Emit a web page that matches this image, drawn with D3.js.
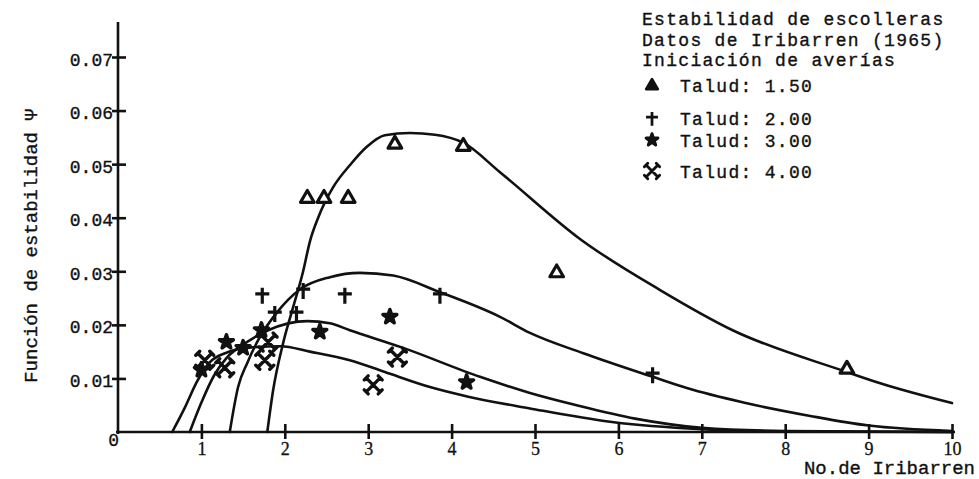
<!DOCTYPE html>
<html><head><meta charset="utf-8">
<script src="https://cdn.jsdelivr.net/npm/d3@7"></script>
<style>body{margin:0;background:#fff}svg{display:block}</style>
</head><body><svg id="c" width="979" height="479"></svg>
<script>
// ---- data ----
const xTickValues = [1,2,3,4,5,6,7,8,9,10];
const yTickValues = [0.01,0.02,0.03,0.04,0.05,0.06,0.07];
const legendTitle = ["Estabilidad de escolleras","Datos de Iribarren (1965)","Iniciación de averías"];
const seriesNames = ["Talud: 1.50","Talud: 2.00","Talud: 3.00","Talud: 4.00"];
const xTitle = "No.de Iribarren";
const yTitle = "Función de estabilidad Ψ";

const pointsT150 = [[2.27,0.0438],[2.47,0.0438],[2.76,0.0438],[3.32,0.0539],[4.14,0.0535],[5.26,0.0299],[8.74,0.0119]];
const pointsT200 = [[1.73,0.0256],[1.88,0.0222],[2.14,0.0222],[2.22,0.0265],[2.72,0.0256],[3.86,0.0256],[6.41,0.0108]];
const pointsT300 = [[1.0,0.0116],[1.3,0.0168],[1.5,0.0157],[1.72,0.019],[2.42,0.0187],[3.26,0.0215],[4.18,0.0093]];
const pointsT400 = [[1.04,0.0134],[1.28,0.012],[1.76,0.0134],[1.8,0.0168],[3.06,0.0088],[3.35,0.014]];

const curveT150 = [[1.79,0],[1.86,0.0078],[1.98,0.0166],[2.1,0.0233],[2.22,0.030],[2.3,0.0355],[2.4,0.040],[2.58,0.0457],[2.78,0.0498],[2.98,0.0532],[3.2,0.0554],[3.5,0.0558],[3.8,0.0555],[4.14,0.054],[4.58,0.0485],[5.56,0.0358],[6.5,0.0265],[7.37,0.019],[8.74,0.0112],[9.14,0.0091],[10,0.0054]];
const curveT200 = [[1.34,0],[1.44,0.0084],[1.55,0.0129],[1.7,0.0177],[1.9,0.0222],[2.18,0.0266],[2.54,0.0289],[2.9,0.0297],[3.3,0.0292],[3.86,0.0261],[4.58,0.0215],[4.94,0.0185],[5.58,0.0147],[6.41,0.0103],[6.82,0.0082],[7.5,0.0055],[8.3,0.003],[9,0.0012],[10,0.0002]];
const curveT300 = [[0.86,0],[1.0,0.0055],[1.15,0.0105],[1.3,0.0138],[1.5,0.0163],[1.8,0.019],[2.27,0.0207],[2.54,0.0203],[2.78,0.019],[3.42,0.0157],[4.34,0.0103],[4.94,0.0073],[5.5,0.005],[6.2,0.0025],[7,0.0008],[8,0.0002],[10,0]];
const curveT400 = [[0.65,0],[0.8,0.0045],[0.95,0.0095],[1.1,0.013],[1.3,0.0148],[1.6,0.0158],[1.95,0.016],[2.3,0.015],[2.78,0.0134],[3.2,0.0112],[3.74,0.0084],[4.2,0.0066],[4.94,0.0044],[5.9,0.0019],[7,0.0005],[8,0.0001],[10,0]];

const seriesPoints = [pointsT150, pointsT200, pointsT300, pointsT400];
const seriesCurves = [curveT150, curveT200, curveT300, curveT400];
const seriesMarkers = ["tri","plus","blob","ex"];

// ---- drawing ----
const svg = d3.select("#c");
const x = d3.scaleLinear().domain([0,10]).range([118,952]);
const y = d3.scaleLinear().domain([0,0.07]).range([432,57]);
const ink = "#111";
const mono = "'Liberation Mono','DejaVu Sans Mono',monospace";

function styleText(sel, size){
  sel.style("font-family",mono).style("font-size",size+"px").attr("fill",ink)
     .attr("stroke",ink).attr("stroke-width",0.35);
}

// axes lines
svg.append("line").attr("x1",x(0)).attr("x2",x(0)).attr("y1",22).attr("y2",y(0)+2)
  .attr("stroke",ink).attr("stroke-width",2.6);
svg.append("line").attr("x1",x(0)-2).attr("x2",x(10)+3).attr("y1",y(0)).attr("y2",y(0))
  .attr("stroke",ink).attr("stroke-width",2.6);

// y axis ticks
const yAxis = d3.axisLeft(y).tickValues(yTickValues).tickSize(0).tickFormat(d3.format(".2f"));
const gy = svg.append("g").attr("transform",`translate(${x(0)},0)`).call(yAxis);
gy.select(".domain").remove();
gy.selectAll(".tick text").attr("x",-5).attr("dy","0.45em").call(styleText,18);
gy.selectAll(".tick").append("line").attr("x1",-6).attr("x2",8).attr("y1",0).attr("y2",0)
  .attr("stroke",ink).attr("stroke-width",2.6);
svg.append("text").attr("x",x(0)+1).attr("y",y(0)+14).attr("text-anchor","end").call(styleText,18).text("0");

// x axis ticks
const xAxis = d3.axisBottom(x).tickValues(xTickValues).tickSize(0).tickFormat(d3.format("d"));
const gx = svg.append("g").attr("transform",`translate(0,${y(0)})`).call(xAxis);
gx.select(".domain").remove();
gx.selectAll(".tick text").attr("y",23).attr("dy",0)
  .style("font-family","'Liberation Serif','DejaVu Serif',serif").style("font-size","18px").attr("fill",ink)
  .attr("stroke",ink).attr("stroke-width",0.3);
gx.selectAll(".tick").append("line").attr("x1",0).attr("x2",0).attr("y1",-8).attr("y2",7)
  .attr("stroke",ink).attr("stroke-width",2.6);

// titles
svg.append("text").attr("x",975).attr("y",474).attr("text-anchor","end").call(styleText,19).text(xTitle);
svg.append("text").attr("transform","translate(37,246) rotate(-90)").attr("text-anchor","middle")
  .call(styleText,19).text(yTitle);

// curves
const line = d3.line().x(d=>x(d[0])).y(d=>y(d[1])).curve(d3.curveMonotoneX);
svg.append("g").selectAll("path").data(seriesCurves).join("path")
  .attr("d",line).attr("fill","none").attr("stroke",ink).attr("stroke-width",2.6)
  .attr("stroke-linecap","round");

// markers
function drawMarker(g, type, filled){
  if(type==="tri"){
    g.append("path").attr("d",d3.symbol(d3.symbolTriangle,80)()).attr("transform","translate(0,1)")
      .attr("fill",filled?ink:"#fff").attr("stroke",ink).attr("stroke-width",3.2).attr("stroke-linejoin","round");
  } else if(type==="plus"){
    g.append("path").attr("d","M-7,-1H7M0,-7V9").attr("stroke",ink).attr("stroke-width",3.2).attr("fill","none");
  } else if(type==="blob"){
    g.append("path").attr("d",d3.symbol(d3.symbolStar,60)()).attr("fill",ink).attr("stroke",ink)
      .attr("stroke-width",3.5).attr("stroke-linejoin","round");
  } else {
    g.append("path").attr("d","M-7,-7L7,7M7,-7L-7,7M-9,-5L-5,-9M5,-9L9,-5M9,5L5,9M-5,9L-9,5")
      .attr("stroke",ink).attr("stroke-width",3.4).attr("fill","none").attr("stroke-linecap","round");
  }
}
seriesPoints.forEach((pts,i)=>{
  svg.append("g").selectAll("g").data(pts).join("g")
    .attr("transform",d=>`translate(${x(d[0])},${y(d[1])})`)
    .each(function(){ drawMarker(d3.select(this), seriesMarkers[i], false); });
});

// legend
const lg = svg.append("g");
legendTitle.forEach((t,i)=>{
  lg.append("text").attr("x",642).attr("y",25+i*20.5).attr("letter-spacing",1.3).call(styleText,18).text(t);
});
const legBase = [92,125,147,178];
seriesNames.forEach((t,i)=>{
  lg.append("text").attr("x",680).attr("y",legBase[i]).attr("letter-spacing",1.3).call(styleText,18).text(t);
  const m = lg.append("g").attr("transform",`translate(652,${legBase[i]-7}) scale(0.85)`);
  drawMarker(m, seriesMarkers[i], true);
});
</script></body></html>
